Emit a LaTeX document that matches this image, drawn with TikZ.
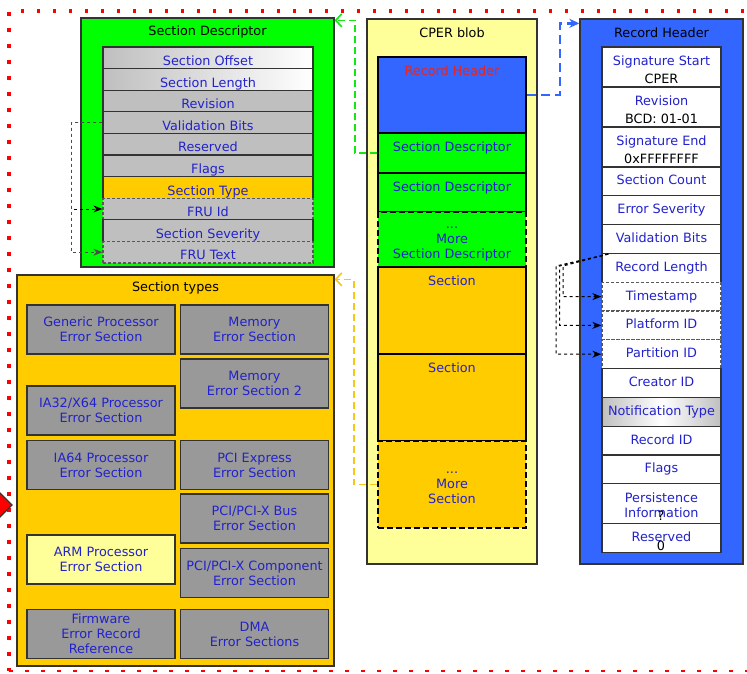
\documentclass[tikz,border=0pt]{standalone}
\usepackage{fontspec}
\setmainfont{DejaVu Sans}
\usetikzlibrary{arrows.meta,positioning}

\definecolor{fieldblue}{RGB}{34,34,204}
\definecolor{sdgreen}{RGB}{0,255,0}
\definecolor{linkgreen}{RGB}{20,230,20}
\definecolor{hdrblue}{RGB}{51,102,255}
\definecolor{secyellow}{RGB}{255,204,0}
\definecolor{linkyellow}{RGB}{245,200,20}
\definecolor{blobyellow}{RGB}{255,255,153}
\definecolor{rowgray}{RGB}{191,191,191}
\definecolor{typegray}{RGB}{153,153,153}
\definecolor{edgegray}{RGB}{51,51,51}
\definecolor{hdrred}{RGB}{220,40,40}

\tikzset{
  outer/.style={draw=edgegray,line width=1.3pt,inner sep=0pt},
  sdrow/.style={draw=edgegray,line width=1.2pt,fill=rowgray,text=fieldblue,
    minimum width=210pt,minimum height=21.6pt,inner sep=0pt,
    text height=15.5pt,text depth=0pt},
  rhrow/.style={draw=edgegray,line width=1.3pt,fill=white,text=fieldblue,
    minimum width=119pt,minimum height=28.8pt,inner sep=0pt,align=center,
    text height=9.5pt,text depth=2.5pt},
  uptext/.style={text height=9.5pt,text depth=12pt},
  valrow/.style={rhrow,minimum height=40pt,text height=36pt,text depth=2.5pt},
  blobbox/.style={draw=black,line width=2pt,text=fieldblue,minimum width=148pt,
    inner sep=0pt,align=center},
  morebox/.style={blobbox,dash pattern=on 6pt off 3pt,line width=2.2pt},
  tbox/.style={draw=edgegray,line width=1.5pt,fill=typegray,text=fieldblue,
    minimum width=148pt,minimum height=49pt,inner sep=0pt,align=center},
  optrow/.style={draw=gray!70!black,dash pattern=on 3pt off 2pt},
  conn/.style={dashed,line width=1pt,-{Stealth[length=9pt,width=7pt]}},
  greenlink/.style={linkgreen,line width=1.6pt,dash pattern=on 7pt off 4pt,
    -{Straight Barb[length=6pt,width=13pt]}},
  yellowlink/.style={linkyellow,line width=1.6pt,dash pattern=on 7pt off 4pt,
    -{Straight Barb[length=6pt,width=13pt]}},
  bluelink/.style={hdrblue,line width=2.5pt,dash pattern=on 9pt off 5pt,
    -{Stealth[length=10pt,width=9pt]}},
  redframe/.style={red,line width=3.5pt,dash pattern=on 3.5pt off 12.5pt}
}

\begin{document}
\begin{tikzpicture}[x=1pt,y=-1pt,
    every node/.style={font=\fontsize{12.8pt}{15pt}\selectfont}]
  \useasboundingbox (0,0) rectangle (747,673);

  % frame
  \draw[redframe] (760,11) -- (9,11) -- (9,671);
  \draw[redframe,line width=2pt] (9,671) -- (760,671);
  \draw[fill=red,draw=edgegray,line width=1.2pt] (12,505) -- (-5,488) -- (-22,505) -- (-5,522) -- cycle;

  % section descriptor
  \node (sdbox) [outer,fill=sdgreen,minimum width=253pt,minimum height=249pt] at (207.5,142.5) {};
  \node (sdtitle) at (207.5,32) {Section Descriptor};
  \node (sdoff) [sdrow,left color=rowgray,right color=white] at (208,57.8) {Section Offset};
  \node (sdlen) [sdrow,left color=rowgray,right color=white] at (208,79.4) {Section Length};
  \node (sdrev) [sdrow] at (208,101) {Revision};
  \node (sdvb) [sdrow] at (208,122.6) {Validation Bits};
  \node (sdres) [sdrow] at (208,144.2) {Reserved};
  \node (sdflags) [sdrow] at (208,165.8) {Flags};
  \node (sdtype) [sdrow,fill=secyellow] at (208,187.4) {Section Type};
  \node (sdfru) [sdrow,optrow] at (208,209) {FRU Id};
  \node (sdsev) [sdrow] at (208,230.6) {Section Severity};
  \node (sdfrut) [sdrow,optrow] at (208,252.2) {FRU Text};
  \draw[conn] (sdvb.west) -- ++(-31,0) |- (sdfru.west);
  \draw[conn,gray!60!black] (sdvb.west) -- ++(-31,0) |- (sdfrut.west);

  % section types
  \node (stbox) [outer,fill=secyellow,minimum width=317pt,minimum height=391pt] at (175.5,470.5) {};
  \node (sttitle) at (175.5,288) {Section types};
  \node (stgpe) [tbox] at (101,329.5) {Generic Processor\\Error Section};
  \node (stmem) [tbox] at (254.5,329.5) {Memory\\Error Section};
  \node (stmem2) [tbox] at (254.5,383.5) {Memory\\Error Section 2};
  \node (stia32) [tbox] at (101,410.5) {IA32/X64 Processor\\Error Section};
  \node (stia64) [tbox] at (101,465) {IA64 Processor\\Error Section};
  \node (stpcie) [tbox] at (254.5,465) {PCI Express\\Error Section};
  \node (stpcibus) [tbox] at (254.5,518.5) {PCI/PCI-X Bus\\Error Section};
  \node (starm) [tbox,fill=blobyellow] at (101,559.5) {ARM Processor\\Error Section};
  \node (stpcicomp) [tbox] at (254.5,573) {PCI/PCI-X Component\\Error Section};
  \node (stfw) [tbox] at (101,634) {Firmware\\Error Record\\Reference};
  \node (stdma) [tbox] at (254.5,634) {DMA\\Error Sections};

  % CPER blob
  \node (blob) [outer,fill=blobyellow,minimum width=170pt,minimum height=545pt] at (452,291.5) {};
  \node (blobtitle) at (452,33) {CPER blob};
  \node (bhdr) [blobbox,fill=hdrblue,minimum height=76pt] at (452,95) {};
  \node (bhdrtxt) [below=6pt of bhdr.north,text=hdrred] {Record Header};
  \node (bsd1) [blobbox,uptext,fill=sdgreen,minimum height=40pt] at (452,153) {Section Descriptor};
  \node (bsd2) [blobbox,uptext,fill=sdgreen,minimum height=39pt] at (452,192.5) {Section Descriptor};
  \node (bmoresd) [morebox,fill=sdgreen,minimum height=55pt,text height=39.5pt,text depth=2.5pt] at (452,239.5) {...\\More\\Section Descriptor};
  \node (bsec1) [blobbox,fill=secyellow,minimum height=87pt] at (452,310.5) {};
  \node (bsec1txt) [below=6pt of bsec1.north,text=fieldblue] {Section};
  \node (bsec2) [blobbox,fill=secyellow,minimum height=87pt] at (452,397.5) {};
  \node (bsec2txt) [below=6pt of bsec2.north,text=fieldblue] {Section};
  \node (bmoresec) [morebox,fill=secyellow,minimum height=87pt,text height=40.5pt,text depth=2.5pt] at (452,484.5) {...\\More\\Section};

  % record header
  \node (rhbox) [outer,fill=hdrblue,minimum width=163pt,minimum height=545pt] at (661.5,291.5) {};
  \node (rhtitle) at (661.5,33) {Record Header};
  \node (rhsigs) [valrow] at (661.5,67) {Signature Start\\[3pt]\textcolor{black}{CPER}};
  \node (rhrev) [valrow] at (661.5,107) {Revision\\[3pt]\textcolor{black}{BCD: 01-01}};
  \node (rhsige) [valrow] at (661.5,147) {Signature End\\[3pt]\textcolor{black}{0xFFFFFFFF}};
  \node (rhcount) [rhrow] at (661.5,181.4) {Section Count};
  \node (rhsev) [rhrow] at (661.5,210.2) {Error Severity};
  \node (rhvb) [rhrow] at (661.5,239) {Validation Bits};
  \node (rhlen) [rhrow] at (661.5,267.8) {Record Length};
  \node (rhts) [rhrow,optrow] at (661.5,296.6) {Timestamp};
  \node (rhplat) [rhrow,optrow] at (661.5,325.4) {Platform ID};
  \node (rhpart) [rhrow,optrow] at (661.5,354.2) {Partition ID};
  \node (rhcreator) [rhrow] at (661.5,383) {Creator ID};
  \node (rhnotif) [rhrow,left color=rowgray,right color=rowgray,middle color=white] at (661.5,411.8) {Notification Type};
  \node (rhrecid) [rhrow] at (661.5,440.6) {Record ID};
  \node (rhflags) [rhrow] at (661.5,469.4) {Flags};
  \node (rhpersist) [rhrow,minimum height=40pt,text height=30.5pt,text depth=2.5pt] at (661.5,503.8) {Persistence\\Information};
  \node (rhpersistval) at (661,516) {?};
  \node (rhres) [rhrow] at (661.5,538.2) {Reserved};
  \node (rhresval) at (661,546) {0};

  \coordinate (rhvbout) at ([xshift=7pt]rhvb.south west);
  \draw[conn] (rhvbout) -- (563,266) |- (rhts.west);
  \draw[conn] (rhvbout) -- (559.5,266) |- (rhplat.west);
  \draw[conn] (rhvbout) -- (556,266) |- (rhpart.west);

  % links
  \draw[greenlink] (bsd1.west) -- ++(-22,0) |- ([yshift=-3pt]sdbox.north east);
  \draw[bluelink] (bhdr.east) -- ++(33,0) |- ([yshift=-5pt]rhbox.north west);
  \draw[yellowlink] (bmoresec.west) -- ++(-23,0) |- ([yshift=-5pt]stbox.north east);
\end{tikzpicture}
\end{document}
